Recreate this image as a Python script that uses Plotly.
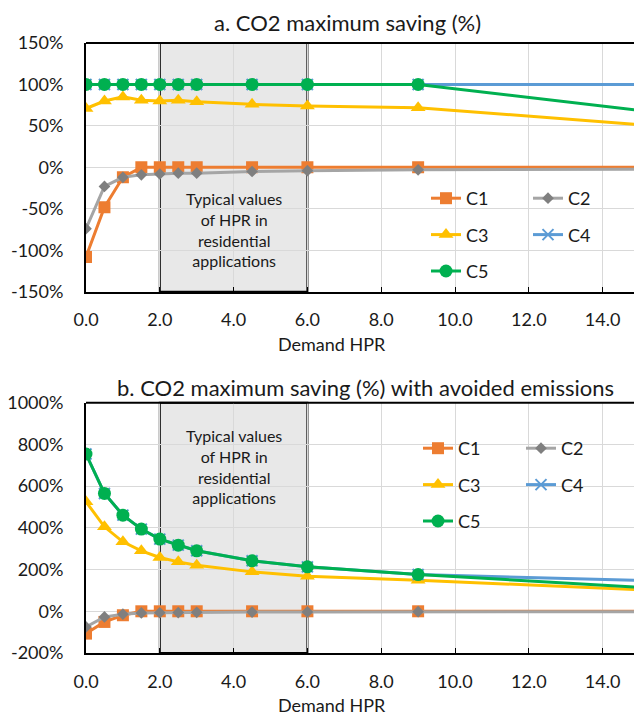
import plotly.graph_objects as go

# ---------------- data ----------------
hpr = [0, 0.5, 1, 1.5, 2, 2.5, 3, 4.5, 6, 9, 18]

# a. CO2 maximum saving (%)
a_c1 = [-108, -48, -12, 0, 0, 0, 0, 0, 0, 0, 0]
a_c2 = [-74, -23, -12, -9, -8, -7, -7, -5, -4, -3, -2]
a_c3 = [71, 80, 85, 81, 80, 81, 79, 76, 74, 72, 41]
a_c4 = [100, 100, 100, 100, 100, 100, 100, 100, 100, 100, 100]
a_c5 = [100, 100, 100, 100, 100, 100, 100, 100, 100, 100, 53]

# b. CO2 maximum saving (%) with avoided emissions
b_c1 = [-107, -51, -19, 0, 0, 0, 0, 0, 0, 0, 0]
b_c2 = [-75, -27, -14, -8, -7, -6, -5, -4, -3, -2, -2]
b_c3 = [525, 405, 333, 290, 258, 237, 221, 189, 168, 149, 80]
b_c4 = [754, 565, 461, 394, 346, 317, 290, 242, 213, 176, 135]
b_c5 = [754, 565, 461, 394, 346, 317, 290, 242, 213, 176, 85]

names = ["C1", "C2", "C3", "C4", "C5"]
colors = ["#ED7D31", "#A5A5A5", "#FFC000", "#5B9BD5", "#00B050"]
marker_colors = ["#ED7D31", "#7F7F7F", "#FFC000", "#5B9BD5", "#00B050"]
symbols = ["square", "diamond", "triangle-up", "x-thin", "circle"]
msizes = [12, 9, 13, 11, 13]

a_ticks = [-150, -100, -50, 0, 50, 100, 150]
b_ticks = [-200, 0, 200, 400, 600, 800, 1000]
x_ticks = [0, 2, 4, 6, 8, 10, 12, 14]

FONT = "Lato"
TXT = "#1a1a1a"

fig = go.Figure()

def add_series(series, xaxis, yaxis, legs):
    for i, (nm, ys) in enumerate(zip(names, series)):
        mk = dict(symbol=symbols[i], size=msizes[i], color=marker_colors[i])
        if symbols[i] == "x-thin":
            mk["line"] = dict(color=colors[i], width=2)
        fig.add_trace(go.Scatter(
            x=hpr, y=ys, name=nm, mode="lines+markers",
            line=dict(color=colors[i], width=3),
            marker=mk, xaxis=xaxis, yaxis=yaxis,
            legend=legs[0] if i % 2 == 0 else legs[1],
            legendgroup=nm + xaxis,
        ))

add_series([a_c1, a_c2, a_c3, a_c4, a_c5], "x", "y", ("legend", "legend2"))
add_series([b_c1, b_c2, b_c3, b_c4, b_c5], "x2", "y2", ("legend3", "legend4"))

def ax_common():
    return dict(
        showgrid=True, gridcolor="#D9D9D9", gridwidth=1,
        showline=True, linecolor="black", linewidth=2,
        tickfont=dict(family=FONT, size=18, color=TXT),
        zeroline=False,
    )

fig.update_layout(
    width=634, height=715,
    margin=dict(l=86, r=0, t=43, b=62),
    plot_bgcolor="white", paper_bgcolor="white",
    font=dict(family=FONT, color=TXT),
    showlegend=True,
)
fig.update_layout(
    xaxis=dict(domain=[0, 1], anchor="y", range=[0, 14.85], tickvals=x_ticks,
               tickformat=".1f", ticks="inside", ticklen=5, tickcolor="black",
               ticklabelstandoff=11, **ax_common()),
    yaxis=dict(domain=[0.5923, 1], anchor="x", range=[-150, 150], tickvals=a_ticks,
               ticktext=[f"{v}%" for v in a_ticks], ticks="", ticklabelstandoff=17,
               **ax_common()),
    xaxis2=dict(domain=[0, 1], anchor="y2", range=[0, 14.85], tickvals=x_ticks,
                tickformat=".1f", ticks="inside", ticklen=5, tickcolor="black",
                ticklabelstandoff=11, **ax_common()),
    yaxis2=dict(domain=[0, 0.4103], anchor="x2", range=[-200, 1000], tickvals=b_ticks,
                ticktext=[f"{v}%" for v in b_ticks], ticks="", ticklabelstandoff=17,
                **ax_common()),
)

shapes = []
for xr, yr, xd in [("x", "y domain", "x domain"), ("x2", "y2 domain", "x2 domain")]:
    # shaded typical-HPR band
    shapes.append(dict(type="rect", xref=xr, yref=yr, x0=2, x1=6, y0=0, y1=1,
                       fillcolor="#E8E8E8", line=dict(width=0), layer="below"))
    # band outline
    shapes.append(dict(type="rect", xref=xr, yref=yr, x0=2, x1=6, y0=0, y1=1,
                       fillcolor="rgba(0,0,0,0)", line=dict(color="black", width=2),
                       layer="below"))
    # top border of plot area
    shapes.append(dict(type="line", xref=xd, yref=yr, x0=0, x1=1, y0=1, y1=1,
                       line=dict(color="black", width=2), layer="above"))
fig.update_layout(shapes=shapes)

band_text = "Typical values<br>of HPR in<br>residential<br>applications"
annotations = [
    dict(x=4, y=0.25, xref="x", yref="y domain", text=band_text, showarrow=False,
         font=dict(family=FONT, size=16, color=TXT), align="center",
         xanchor="center", yanchor="middle"),
    dict(x=4, y=0.747, xref="x2", yref="y2 domain", text=band_text, showarrow=False,
         font=dict(family=FONT, size=16, color=TXT), align="center",
         xanchor="center", yanchor="middle"),
    dict(x=(347 - 86) / 548, y=(653 - 23) / 610, xref="paper", yref="paper",
         text="a. CO2 maximum saving (%)", showarrow=False,
         xanchor="center", yanchor="middle",
         font=dict(family=FONT, size=22, color=TXT)),
    dict(x=(365 - 86) / 548, y=(653 - 387) / 610, xref="paper", yref="paper",
         text="b. CO2 maximum saving (%) with avoided emissions", showarrow=False,
         xanchor="center", yanchor="middle",
         font=dict(family=FONT, size=22, color=TXT)),
]
for py in [344, 705]:
    annotations.append(dict(x=(332 - 86) / 548, y=(653 - py) / 610, xref="paper",
                            yref="paper", text="Demand HPR", showarrow=False,
                            xanchor="center", yanchor="middle",
                            font=dict(family=FONT, size=18, color=TXT)))
fig.update_layout(annotations=annotations)

leg_common = dict(bgcolor="rgba(0,0,0,0)", font=dict(family=FONT, size=18, color=TXT),
                  traceorder="grouped", tracegroupgap=10, xanchor="left", yanchor="top",
                  itemwidth=30)
fig.update_layout(
    legend=dict(x=(426 - 86) / 548, y=(653 - 180) / 610, **leg_common),
    legend2=dict(x=(528 - 86) / 548, y=(653 - 180) / 610, **leg_common),
    legend3=dict(x=(418 - 86) / 548, y=(653 - 430) / 610, **leg_common),
    legend4=dict(x=(521 - 86) / 548, y=(653 - 430) / 610, **leg_common),
)

fig.write_html("out.html", config={"displayModeBar": False},
               post_script="document.body.style.margin='0';")
